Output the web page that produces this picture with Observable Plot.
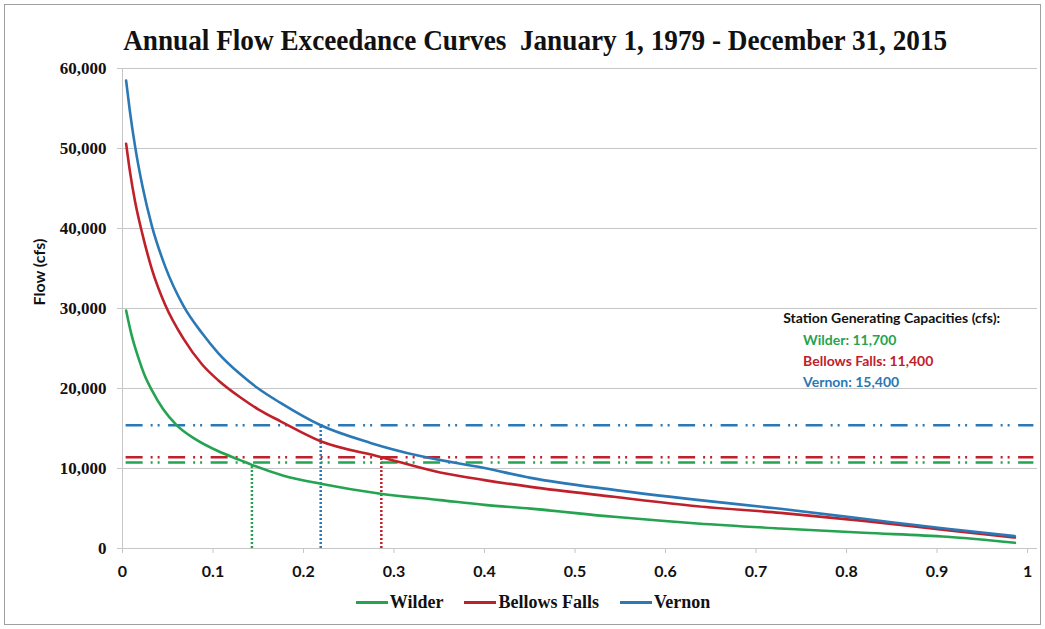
<!DOCTYPE html>
<html>
<head>
<meta charset="utf-8">
<script src="https://cdn.jsdelivr.net/npm/d3@7"></script>
<script src="https://cdn.jsdelivr.net/npm/@observablehq/plot@0.6"></script>
<style>
  body { margin: 0; background: #fff; }
  #wrap { position: relative; width: 1045px; height: 629px; overflow: hidden; background: #fff; }
  #frame { position: absolute; left: 4px; top: 4px; width: 1035px; height: 619px; border: 1px solid #a0a0a0; pointer-events: none; }
  #title { position: absolute; left: 0; top: 23px; width: 1070px; text-align: center; line-height: 34px; }
  #titleText { display: inline-block; font-family: "Liberation Serif", "Times New Roman", serif; font-weight: bold; font-size: 29px; color: #111; white-space: pre; transform-origin: center; }
  #chart { position: absolute; left: 0; top: 55px; }
  #legend { position: absolute; left: 0; top: 592px; width: 1066px; display: flex; justify-content: center; align-items: center; gap: 21px; font-family: "Liberation Serif", "Times New Roman", serif; font-weight: bold; font-size: 18px; color: #111; }
  .item { display: flex; align-items: center; gap: 2px; }
  .sw { width: 32px; height: 3px; display: inline-block; }
</style>
</head>
<body>
<div id="wrap">
  <div id="title"><span id="titleText">Annual Flow Exceedance Curves  January 1, 1979 - December 31, 2015</span></div>
  <div id="chart"></div>
  <div id="legend"></div>
  <div id="frame"></div>
</div>
<script>
// ---- data ----
const stations = ["Wilder", "Bellows Falls", "Vernon"];
const stationColors = ["#24a350", "#c0202a", "#2a78b5"];

const wilderP    = [0.004, 0.010, 0.0177, 0.025, 0.0324, 0.045, 0.060, 0.080, 0.106, 0.130, 0.143, 0.178, 0.219, 0.285, 0.351, 0.400, 0.451, 0.543, 0.635, 0.727, 0.819, 0.911, 0.986];
const wilderFlow = [29750, 26700, 23800, 21500, 19800, 17400, 15400, 13700, 12150, 11050, 10450, 9100, 8100, 6850, 6050, 5450, 4980, 3960, 3130, 2500, 1960, 1460, 710];

const bellowsP    = [0.004, 0.008, 0.014, 0.022, 0.0325, 0.047, 0.0675, 0.088, 0.106, 0.130, 0.150, 0.1746, 0.219, 0.285, 0.351, 0.400, 0.451, 0.543, 0.635, 0.727, 0.819, 0.911, 0.986];
const bellowsFlow = [50600, 47300, 43300, 39300, 34900, 30500, 26200, 23000, 21000, 18900, 17400, 15900, 13400, 11450, 9500, 8550, 7700, 6460, 5290, 4450, 3450, 2290, 1370];

const vernonP    = [0.004, 0.008, 0.014, 0.022, 0.0325, 0.047, 0.0675, 0.088, 0.106, 0.130, 0.150, 0.1746, 0.219, 0.274, 0.329, 0.400, 0.451, 0.543, 0.635, 0.727, 0.819, 0.911, 0.986];
const vernonFlow = [58500, 54800, 50200, 45300, 40300, 35300, 30300, 26900, 24400, 21800, 20000, 18200, 15400, 13200, 11550, 10050, 8830, 7330, 6080, 4960, 3710, 2460, 1540];

// capacity reference lines as drawn (Wilder, Bellows Falls, Vernon)
const capacityLevels = [10750, 11400, 15400];
const capacitySpan = [0.004, 1.007];
const crossingP = [0.143, 0.286, 0.219];
const crossingFlow = [10450, 11300, 15400];

const capacityHeader = "Station Generating Capacities (cfs):";
const capacityText = ["Wilder: 11,700", "Bellows Falls: 11,400", "Vernon: 15,400"];
const noteX = [0.730, 0.752];
const noteY = [28750, 26000, 23400, 20800];

const xTicks = [0, 0.1, 0.2, 0.3, 0.4, 0.5, 0.6, 0.7, 0.8, 0.9, 1];
const yTicks = [0, 10000, 20000, 30000, 40000, 50000, 60000];

// ---- build tables ----
const series = [
  {name: stations[0], p: wilderP, f: wilderFlow},
  {name: stations[1], p: bellowsP, f: bellowsFlow},
  {name: stations[2], p: vernonP, f: vernonFlow}
];
const curveData = series.flatMap(s => s.p.map((p, i) => ({station: s.name, p, flow: s.f[i]})));
const capData = stations.map((s, i) => ({station: s, level: capacityLevels[i], x1: capacitySpan[0], x2: capacitySpan[1]}));
const crossData = stations.map((s, i) => ({station: s, p: crossingP[i], flow: crossingFlow[i]}));
const noteData = [{text: capacityHeader, x: noteX[0], y: noteY[0], color: "#111"}]
  .concat(stations.map((s, i) => ({text: capacityText[i], x: noteX[1], y: noteY[i + 1], color: stationColors[i]})));

const grid = "#c6c6c6";
const sans = "Lato, 'Open Sans', sans-serif";
const serif = "'Liberation Serif', 'Times New Roman', serif";

const chart = Plot.plot({
  width: 1045,
  height: 535,
  marginLeft: 122,
  marginRight: 8,
  marginTop: 13,
  marginBottom: 42,
  x: {domain: [0, 1.011]},
  y: {domain: [0, 60000]},
  color: {domain: stations, range: stationColors},
  marks: [
    Plot.gridY(yTicks, {stroke: grid, strokeOpacity: 1}),
    Plot.ruleX([0], {stroke: grid}),
    Plot.ruleY([0], {stroke: grid}),
    Plot.axisX(xTicks, {tickSize: 5, tickPadding: 12, stroke: grid, fill: "#111", fontFamily: sans, fontWeight: "bold", fontSize: 16, tickFormat: d => String(+d.toFixed(1))}),
    Plot.axisY(yTicks, {tickSize: 5, tickPadding: 11, stroke: grid, fill: "#111", fontFamily: serif, fontWeight: "bold", fontSize: 17, tickFormat: d3.format(","), label: null}),
    Plot.text(["Flow (cfs)"], {frameAnchor: "left", rotate: -90, dx: -83, dy: -3, fontFamily: sans, fontWeight: "bold", fontSize: 16, fill: "#111"}),
    Plot.ruleX(crossData, {x: "p", y1: 0, y2: "flow", stroke: "station", strokeWidth: 2.5, strokeDasharray: "2,2"}),
    Plot.ruleY(capData, {y: "level", x1: "x1", x2: "x2", stroke: "station", strokeWidth: 2.5, strokeDasharray: "17,8,2,5,2,8.5"}),
    Plot.line(curveData, {x: "p", y: "flow", z: "station", stroke: "station", strokeWidth: 2.6, curve: "monotone-x"}),
    Plot.text(noteData, {x: "x", y: "y", text: "text", fill: "color", textAnchor: "start", fontFamily: sans, fontWeight: "bold", fontSize: 14})
  ]
});
document.getElementById("chart").appendChild(chart);

// legend below the chart
const legend = document.getElementById("legend");
stations.forEach((s, i) => {
  const it = document.createElement("div");
  it.className = "item";
  const sw = document.createElement("span");
  sw.className = "sw";
  sw.style.background = stationColors[i];
  const lab = document.createElement("span");
  lab.textContent = s;
  it.appendChild(sw); it.appendChild(lab);
  legend.appendChild(it);
});

// squeeze title to the reference width
const tt = document.getElementById("titleText");
const tw = tt.getBoundingClientRect().width;
tt.style.transform = `scaleX(${824 / tw})`;
</script>
</body>
</html>
